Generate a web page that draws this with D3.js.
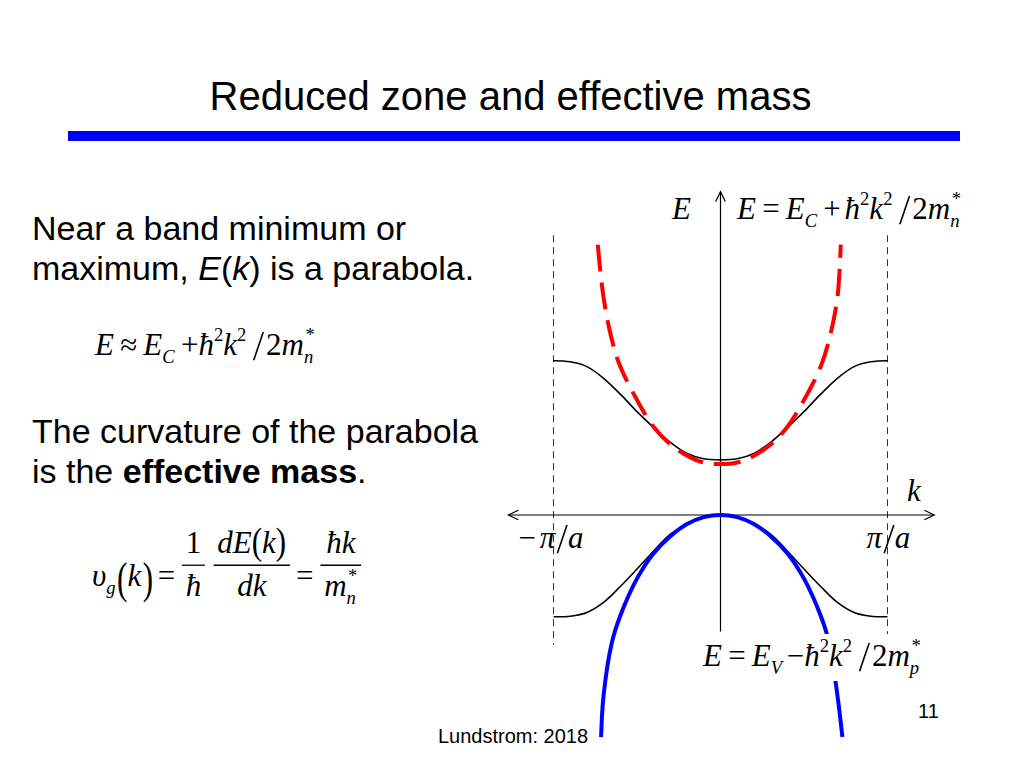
<!DOCTYPE html>
<html><head><meta charset="utf-8">
<script src="https://cdn.jsdelivr.net/npm/d3@7"></script>
<style>body{margin:0;background:#fff}svg{display:block}</style>
</head><body><svg id="c" width="1024" height="768"></svg>
<script>
// ---------------- data (k in units of pi/a, E in arbitrary units, Ev = 0, Ec ~ 1)
const kBand = [-1.0,-0.9,-0.8,-0.7,-0.6,-0.5,-0.4,-0.3,-0.2,-0.1,0,0.1,0.2,0.3,0.4,0.5,0.6,0.7,0.8,0.9,1.0];
const eCond = [2.91,2.89,2.80,2.58,2.28,1.95,1.65,1.37,1.16,1.06,1.04,1.06,1.16,1.37,1.65,1.95,2.28,2.58,2.80,2.89,2.91];
const eVal  = [-1.92,-1.91,-1.84,-1.65,-1.35,-1.02,-0.68,-0.36,-0.18,-0.04,0,-0.04,-0.18,-0.36,-0.68,-1.02,-1.35,-1.65,-1.84,-1.91,-1.92];
const kRed  = [-0.735,-0.7,-0.65,-0.6,-0.5,-0.4,-0.3,-0.2,-0.1,0,0.1,0.2,0.3,0.4,0.5,0.6,0.65,0.7,0.72];
const eRed  = [5.1,4.1,3.3,2.8,2.17,1.66,1.33,1.12,0.99,0.96,0.99,1.12,1.33,1.66,2.17,2.8,3.3,4.1,5.1];
const kBlue = [-0.715,-0.7,-0.65,-0.6,-0.5,-0.4,-0.3,-0.2,-0.1,0,0.1,0.2,0.3,0.4,0.5,0.6,0.65,0.7,0.73];
const eBlue = [-4.19,-3.4,-2.4,-1.9,-1.2,-0.72,-0.4,-0.17,-0.04,0,-0.04,-0.17,-0.4,-0.72,-1.2,-1.9,-2.4,-3.4,-4.19];
const kAxisExtent = [-1.27, 1.28];
const eAxisExtent = [-2.2, 6.1];
const zoneEdges = [-1, 1];
const zoneExtent = [-2.45, 5.28];

const SERIF = "'Liberation Serif','Times New Roman',serif";
const SANS = "'Liberation Sans',Arial,sans-serif";
const svg = d3.select('#c');

const x = d3.scaleLinear().domain([-1, 1]).range([553.5, 887.5]);
const y = d3.scaleLinear().domain([0, 1]).range([515, 462]);

// ---------------- slide text
svg.append('text').attr('x', 510.5).attr('y', 110).attr('text-anchor', 'middle')
  .attr('font-family', SANS).attr('font-size', 40).text('Reduced zone and effective mass');
svg.append('rect').attr('x', 68).attr('y', 131).attr('width', 892).attr('height', 10).attr('fill', '#0000ff');

function para(xp, yp, parts) {
  const t = svg.append('text').attr('x', xp).attr('y', yp).attr('font-family', SANS).attr('font-size', 34);
  parts.forEach(p => t.append('tspan').attr('font-style', p.i ? 'italic' : 'normal')
    .attr('font-weight', p.b ? 'bold' : 'normal').text(p.t));
}
para(32, 240, [{t: 'Near a band minimum or'}]);
para(32, 280, [{t: 'maximum, '}, {t: 'E', i: 1}, {t: '('}, {t: 'k', i: 1}, {t: ') is a parabola.'}]);
para(32, 443, [{t: 'The curvature of the parabola'}]);
para(32, 483, [{t: 'is the '}, {t: 'effective mass', b: 1}, {t: '.'}]);

svg.append('text').attr('x', 438).attr('y', 743).attr('font-family', SANS).attr('font-size', 20).text('Lundstrom: 2018');
svg.append('text').attr('x', 918).attr('y', 718).attr('font-family', SANS).attr('font-size', 20).text('11');

// ---------------- math layout helper
function row(parent, items, size) {
  const g = parent.append('g');
  let cx = 0;
  const txt = (it, px) => {
    const t = g.append('text').attr('font-family', SERIF).attr('font-size', size * (it.s || 1))
      .attr('font-style', it.i ? 'italic' : 'normal').text(it.t);
    if (it.sy) t.attr('transform', `translate(${px},${(it.dy || 0) * size}) scale(1,${it.sy})`);
    else t.attr('x', px).attr('y', (it.dy || 0) * size);
    return t.node().getComputedTextLength();
  };
  items.forEach(it => {
    if (it.sp != null) { cx += it.sp * size; return; }
    if (it.slash) {
      g.append('line').attr('x1', cx + 0.33 * size).attr('y1', -0.74 * size)
        .attr('x2', cx + 0.02 * size).attr('y2', 0.17 * size)
        .attr('stroke', '#000').attr('stroke-width', 1.6);
      cx += 0.36 * size;
      return;
    }
    if (it.st) {
      const w1 = txt({t: it.st[0], i: true, s: 0.6, dy: 0.25}, cx);
      const w2 = txt({t: it.st[1], i: false, s: 0.6, dy: -0.45}, cx + 0.05 * size);
      cx += Math.max(w1, w2 + 0.05 * size);
      return;
    }
    if (it.frac) {
      const n = row(g, it.frac[0], size), d = row(g, it.frac[1], size);
      const pad = 0.12 * size;
      const w = Math.max(n.w, d.w) + 2 * pad;
      n.g.attr('transform', `translate(${cx + (w - n.w) / 2},${-1.07 * size})`);
      d.g.attr('transform', `translate(${cx + (w - d.w) / 2},${0.33 * size})`);
      g.append('line').attr('x1', cx).attr('x2', cx + w)
        .attr('y1', -0.67 * size).attr('y2', -0.67 * size).attr('stroke', '#000').attr('stroke-width', 1.3);
      cx += w;
      return;
    }
    cx += txt(it, cx);
  });
  return {g, w: cx};
}
function mathAt(xp, yp, size, items, parent) {
  const r = row(parent || svg, items, size);
  r.g.attr('transform', `translate(${xp},${yp})`);
  return r;
}
const I = t => ({t, i: true});
const R = t => ({t, i: false});
const SUB = (t, it = true) => ({t, i: it, s: 0.6, dy: 0.25});
const SUP = t => ({t, i: false, s: 0.6, dy: -0.45});
const SLASH = {slash: true};
const SP = v => ({sp: v});
const ST = (a, b) => ({st: [a, b]});
const BSL = [SP(.22), SLASH, SP(.06)];

const FS = 31;
mathAt(95, 355, FS, [I('E'), SP(.2), R('≈'), SP(.2), I('E'), SUB('C'), SP(.2), R('+'), I('ħ'), SUP('2'), I('k'), SUP('2'), ...BSL, R('2'), I('m'), ST('n', '*')]);
mathAt(92, 586, FS, [I('υ'), SUB('g'), SP(.05), {t: '(', sy: 1.45, dy: 0.22}, I('k'), SP(.05), {t: ')', sy: 1.45, dy: 0.22}, SP(.15), R('='), SP(.22),
  {frac: [[R('1')], [I('ħ')]]}, SP(.28),
  {frac: [[I('d'), I('E'), {t: '(', sy: 1.2, dy: 0.05}, I('k'), {t: ')', sy: 1.2, dy: 0.05}], [I('d'), I('k')]]},
  SP(.2), R('='), SP(.22),
  {frac: [[I('ħ'), I('k')], [I('m'), ST('n', '*')]]}]);

// ---------------- chart
const gz = svg.append('g');
zoneEdges.forEach(k => gz.append('line').attr('x1', x(k)).attr('x2', x(k))
  .attr('y1', y(zoneExtent[1])).attr('y2', y(zoneExtent[0]))
  .attr('stroke', '#333').attr('stroke-width', 1).attr('stroke-dasharray', '7,5'));

const ax = svg.append('g').attr('stroke', '#000').attr('stroke-width', 1.2).attr('fill', 'none');
ax.append('line').attr('x1', x(kAxisExtent[0])).attr('x2', x(kAxisExtent[1])).attr('y1', y(0)).attr('y2', y(0));
ax.append('line').attr('x1', x(0)).attr('x2', x(0)).attr('y1', y(eAxisExtent[0])).attr('y2', y(eAxisExtent[1]));
function arrow(tx, ty, ang) { // ang: direction the arrow points
  const L = 11, s = 0.45;
  const a1 = ang + Math.PI - s, a2 = ang + Math.PI + s;
  ax.append('path').attr('d', `M${tx + L * Math.cos(a1)},${ty + L * Math.sin(a1)}L${tx},${ty}L${tx + L * Math.cos(a2)},${ty + L * Math.sin(a2)}`);
}
arrow(x(kAxisExtent[1]), y(0), 0);
arrow(x(kAxisExtent[0]), y(0), Math.PI);
arrow(x(0), y(eAxisExtent[1]), -Math.PI / 2);

const line = d3.line().x(d => x(d[0])).y(d => y(d[1])).curve(d3.curveCatmullRom.alpha(0.5));
svg.append('path').attr('d', line(d3.zip(kBand, eCond))).attr('fill', 'none').attr('stroke', '#000').attr('stroke-width', 1.6);
svg.append('path').attr('d', line(d3.zip(kBand, eVal))).attr('fill', 'none').attr('stroke', '#000').attr('stroke-width', 1.6);
svg.append('path').attr('d', line(d3.zip(kRed, eRed))).attr('fill', 'none').attr('stroke', '#ff0000')
  .attr('stroke-width', 4).attr('stroke-dasharray', '27,11');
svg.append('path').attr('d', line(d3.zip(kBlue, eBlue))).attr('fill', 'none').attr('stroke', '#0000ff').attr('stroke-width', 4);

// equation labels on the chart (the valence one sits on a white box that hides the curve behind it)
mathAt(737, 219, FS, [I('E'), SP(.2), R('='), SP(.2), I('E'), SUB('C'), SP(.2), R('+'), SP(.12), I('ħ'), SUP('2'), I('k'), SUP('2'), ...BSL, R('2'), I('m'), ST('n', '*')]);
const boxG = svg.append('g');
const vb = mathAt(703, 666, FS, [I('E'), SP(.2), R('='), SP(.2), I('E'), SUB('V'), SP(.15), R('−'), I('ħ'), SUP('2'), I('k'), SUP('2'), ...BSL, R('2'), I('m'), ST('p', '*')], boxG);
boxG.insert('rect', ':first-child').attr('x', 700).attr('y', 634).attr('width', vb.w + 8).attr('height', 47).attr('fill', '#fff');

// axis labels
mathAt(672, 219, FS, [I('E')]);
mathAt(907, 501, FS, [I('k')]);
mathAt(x(-1) - 35, 548, FS, [R('−'), SP(.12), I('π'), SP(.05), SLASH, I('a')]);
mathAt(x(1) - 21, 548, FS, [I('π'), SP(.05), SLASH, I('a')]);
</script></body></html>
